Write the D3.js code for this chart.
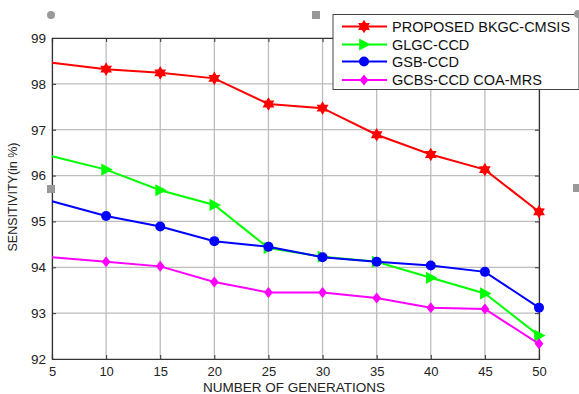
<!DOCTYPE html>
<html><head><meta charset="utf-8">
<script src="https://cdn.jsdelivr.net/npm/d3@7"></script>
<style>body{margin:0;background:#fff}svg{display:block}text{font-family:"Liberation Sans",Arial,sans-serif}</style>
</head><body>
<svg id="c" width="579" height="394"></svg>
<script>
const generations = [5,10,15,20,25,30,35,40,45,50];
const proposed = [98.46,98.32,98.24,98.12,97.56,97.47,96.89,96.46,96.13,95.21];
const glgc = [96.42,96.13,95.68,95.36,94.42,94.23,94.12,93.77,93.43,92.51];
const gsb = [95.44,95.12,94.89,94.57,94.45,94.22,94.12,94.04,93.90,93.12];
const gcbs = [94.22,94.12,94.02,93.68,93.45,93.45,93.33,93.12,93.09,92.33];
const seriesNames = ["PROPOSED BKGC-CMSIS","GLGC-CCD","GSB-CCD","GCBS-CCD COA-MRS"];
const xTicks = [5,10,15,20,25,30,35,40,45,50];
const yTicks = [92,93,94,95,96,97,98,99];

const colors = ["#ff0000","#00ff00","#0000ff","#ff00ff"];
const symbols = ["star6","triangle","circle","diamond"];
const series = [proposed,glgc,gsb,gcbs];

const svg = d3.select("#c");
const m = {l:52,r:539,t:38,b:359};
const x = d3.scaleLinear().domain([5,50]).range([m.l,m.r]);
const y = d3.scaleLinear().domain([92,99]).range([m.b,m.t]);

// grid
const g = svg.append("g");
g.selectAll(".vg").data(xTicks).join("line")
 .attr("x1",d=>x(d)).attr("x2",d=>x(d)).attr("y1",m.t).attr("y2",m.b)
 .attr("stroke","#bdbdbd").attr("stroke-width",1.3);
g.selectAll(".hg").data(yTicks).join("line")
 .attr("x1",m.l).attr("x2",m.r).attr("y1",d=>y(d)).attr("y2",d=>y(d))
 .attr("stroke","#bdbdbd").attr("stroke-width",1.3);

// axes
const xa = svg.append("g").attr("transform",`translate(0,${m.b})`)
 .call(d3.axisBottom(x).tickValues(xTicks).tickSize(-4).tickPadding(7.5).tickFormat(d3.format("d")));
const xa2 = svg.append("g").attr("transform",`translate(0,${m.t})`)
 .call(d3.axisTop(x).tickValues(xTicks).tickSize(-4).tickFormat(""));
const ya = svg.append("g").attr("transform",`translate(${m.l},0)`)
 .call(d3.axisLeft(y).tickValues(yTicks).tickSize(-4).tickPadding(6).tickFormat(d3.format("d")));
const ya2 = svg.append("g").attr("transform",`translate(${m.r},0)`)
 .call(d3.axisRight(y).tickValues(yTicks).tickSize(-4).tickFormat(""));
[xa,xa2,ya,ya2].forEach(a=>{
  a.select(".domain").attr("stroke","#333").attr("stroke-width",1.2);
  a.selectAll(".tick line").attr("stroke","#333");
  a.selectAll("text").attr("font-size",13.5).attr("fill","#222");
});
xa.selectAll("text").attr("font-size",13);

// symbol factory
function sym(name,size){
  if(name==="star6"){
    const pts=[];const R=size*0.62,r=size*0.36;
    for(let i=0;i<12;i++){const a=Math.PI/6*i-Math.PI/2;const rr=i%2?r:R;pts.push([rr*Math.cos(a),rr*Math.sin(a)]);}
    return "M"+pts.map(p=>p.join(",")).join("L")+"Z";
  }
  if(name==="triangle"){const s=size*0.55;return `M${-s*0.8},${-s}L${s*1.1},0L${-s*0.8},${s}Z`;}
  if(name==="circle"){const r=size*0.5;return d3.symbol(d3.symbolCircle, Math.PI*r*r)();}
  if(name==="diamond"){const s=size*0.55;return `M0,${-s}L${s*0.8},0L0,${s}L${-s*0.8},0Z`;}
}
const symSize = [11,11,10,10];

const line = d3.line().x((d,i)=>x(generations[i])).y(d=>y(d));
series.forEach((s,k)=>{
  svg.append("path").datum(s).attr("d",line).attr("fill","none")
   .attr("stroke",colors[k]).attr("stroke-width",2);
  const pts = s.map((v,i)=>({g:generations[i],v})).filter((d,i)=>i>0);
  svg.selectAll(".m"+k).data(pts).join("path")
   .attr("transform",d=>`translate(${x(d.g)},${y(d.v)})`)
   .attr("d",sym(symbols[k],symSize[k])).attr("fill",colors[k]);
});

// labels
svg.append("text").attr("x",294).attr("y",391.5).attr("text-anchor","middle")
 .attr("font-size",13.5).attr("fill","#222").text("NUMBER OF GENERATIONS");
svg.append("text").attr("transform","translate(17,197) rotate(-90)").attr("text-anchor","middle")
 .attr("font-size",12.5).attr("fill","#222").text("SENSITIVITY(in %)");

// legend
const lg = svg.append("g");
lg.append("rect").attr("x",333).attr("y",14.5).attr("width",246).attr("height",75)
 .attr("fill","#fff").attr("stroke","#444").attr("stroke-width",1);
const ly = [26.5,44.5,61.5,80];
seriesNames.forEach((n,k)=>{
  lg.append("line").attr("x1",342).attr("x2",387).attr("y1",ly[k]).attr("y2",ly[k])
   .attr("stroke",colors[k]).attr("stroke-width",2);
  lg.append("path").attr("transform",`translate(364,${ly[k]})`)
   .attr("d",sym(symbols[k],symSize[k])).attr("fill",colors[k]);
  lg.append("text").attr("x",392).attr("y",ly[k]+5).attr("font-size",14.5).attr("fill","#111").text(n);
});

// selection handles
const hc = "#999";
svg.append("circle").attr("cx",51).attr("cy",15).attr("r",4).attr("fill",hc);
svg.append("circle").attr("cx",578).attr("cy",14).attr("r",4).attr("fill",hc);
[[316,15],[51,189],[577,188]].forEach(p=>svg.append("rect").attr("x",p[0]-4).attr("y",p[1]-4).attr("width",8).attr("height",8).attr("fill",hc));
</script>
</body></html>
